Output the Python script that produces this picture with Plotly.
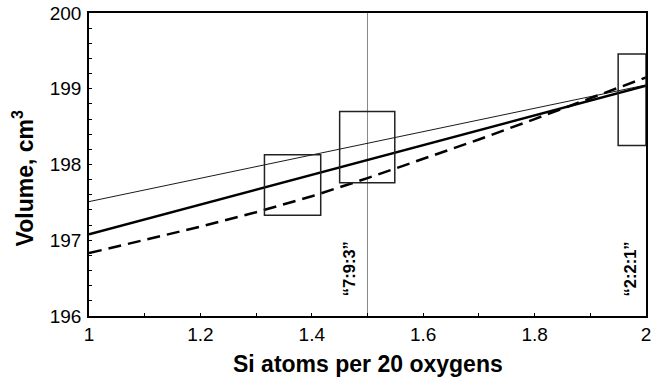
import plotly.graph_objects as go

# Data
x_lines = [1.0, 1.1, 1.2, 1.3, 1.4, 1.5, 1.6, 1.7, 1.8, 1.9, 2.0]
thin_line = [197.51, 197.664, 197.818, 197.972, 198.126, 198.28, 198.434, 198.588, 198.742, 198.896, 199.05]
thick_line = [197.08, 197.276, 197.472, 197.668, 197.864, 198.06, 198.256, 198.452, 198.648, 198.844, 199.04]
dashed_line = [196.83, 197.0, 197.18, 197.37, 197.58, 197.82, 198.07, 198.33, 198.6, 198.87, 199.15]

box_x0 = [1.315, 1.45, 1.95]
box_x1 = [1.416, 1.549, 2.0]
box_y0 = [197.33, 197.76, 198.25]
box_y1 = [198.13, 198.70, 199.46]

ref_x = 1.5
labels = ["\u201c7:9:3\u201d", "\u201c2:2:1\u201d"]
label_x = [1.467, 1.972]
label_y = [196.62, 196.62]

x_ticks = [1, 1.2, 1.4, 1.6, 1.8, 2]
x_ticklabels = ["1", "1.2", "1.4", "1.6", "1.8", "2"]
y_ticks = [196, 197, 198, 199, 200]

x_title = "Si atoms per 20 oxygens"
y_title = "Volume, cm<sup>3</sup>"

font_family = "Liberation Sans, Arial, sans-serif"

fig = go.Figure()
fig.add_trace(go.Scatter(x=x_lines, y=thin_line, mode="lines",
                         line=dict(color="black", width=0.9), showlegend=False))
fig.add_trace(go.Scatter(x=x_lines, y=thick_line, mode="lines",
                         line=dict(color="black", width=2.5), showlegend=False))
fig.add_trace(go.Scatter(x=x_lines, y=dashed_line, mode="lines",
                         line=dict(color="black", width=2.5, dash="13px,7px"), showlegend=False))

shapes = [dict(type="line", xref="x", yref="paper", x0=ref_x, x1=ref_x, y0=0, y1=1,
               line=dict(color="#888888", width=1), layer="below")]
for a, b, c, d in zip(box_x0, box_x1, box_y0, box_y1):
    shapes.append(dict(type="rect", xref="x", yref="y", x0=a, x1=b, y0=c, y1=d,
                       line=dict(color="#222222", width=1.5)))

annotations = []
for t, ax, ay in zip(labels, label_x, label_y):
    annotations.append(dict(x=ax, y=ay, xref="x", yref="y", text="<b>" + t + "</b>",
                            textangle=-90, showarrow=False,
                            font=dict(family=font_family, size=16.5, color="black"),
                            xanchor="center", yanchor="middle"))

# axis titles as annotations for exact placement
annotations.append(dict(x=0.5, y=-0.158, xref="paper", yref="paper",
                        text="<b>" + x_title + "</b>", showarrow=False,
                        font=dict(family=font_family, size=23, color="black"),
                        xanchor="center", yanchor="middle"))
annotations.append(dict(x=-0.118, y=0.455, xref="paper", yref="paper",
                        text="<b>" + y_title + "</b>", showarrow=False, textangle=-90,
                        font=dict(family=font_family, size=23, color="black"),
                        xanchor="center", yanchor="middle"))

fig.update_layout(
    width=654, height=386,
    margin=dict(l=89, r=3, t=12, b=70),
    paper_bgcolor="white", plot_bgcolor="white",
    font=dict(family=font_family, color="black"),
    shapes=shapes, annotations=annotations,
    xaxis=dict(range=[1, 2], tickvals=x_ticks, ticktext=x_ticklabels,
               showgrid=False, zeroline=False, showline=True, linecolor="black", linewidth=1.5,
               mirror=True, ticks="inside", ticklen=3, tickcolor="black",
               minor=dict(dtick=0.1, ticks="inside", ticklen=3, tickcolor="black"),
               tickfont=dict(size=19, family=font_family), ticklabelstandoff=0,
               ticklabeloverflow="allow"),
    yaxis=dict(range=[196, 200], tickvals=y_ticks,
               showgrid=False, zeroline=False, showline=True, linecolor="black", linewidth=1.5,
               mirror=True, ticks="inside", ticklen=3, tickcolor="black",
               minor=dict(dtick=0.2, ticks="inside", ticklen=3, tickcolor="black"),
               tickfont=dict(size=19, family=font_family), ticklabelstandoff=2,
               ticklabeloverflow="allow"),
)

fig.write_html("out.html")
